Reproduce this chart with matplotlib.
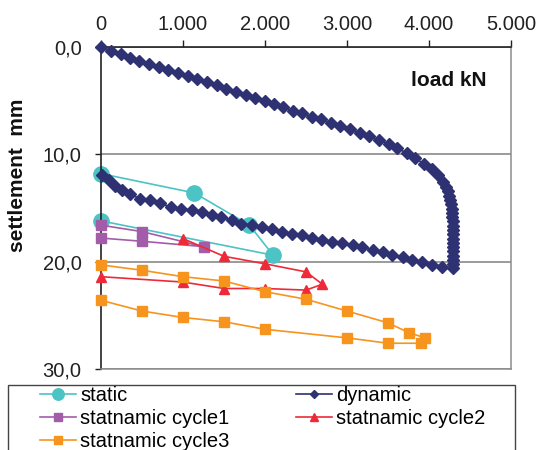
import matplotlib
matplotlib.use("Agg")
import matplotlib.pyplot as plt
from matplotlib.patches import Rectangle

plt.rcParams['font.family'] = ['Liberation Sans', 'DejaVu Sans']

# ---- data: load (kN) vs settlement (mm) ----
static_load = [0, 1140, 1810, 2100, 0]
static_settl = [11.8, 13.6, 16.6, 19.4, 16.2]

dynamic_load = [
    0, 118, 240, 350, 463, 585, 711, 821, 943, 1061, 1175, 1289, 1411, 1524,
    1642, 1764, 1882, 1995, 2106, 2224, 2338, 2455, 2573, 2683, 2805, 2915,
    3037, 3159, 3272, 3390, 3512, 3613, 3728, 3829, 3939, 4033, 4113, 4174,
    4205, 4228, 4247, 4261, 4271, 4278, 4283, 4286, 4288, 4289, 4290, 4290,
    4290, 4290, 4290, 4290, 4290, 4290, 4290, 4288,
    4155, 4033, 3919, 3797, 3679, 3553, 3435, 3313, 3187, 3069, 2935, 2813,
    2691, 2569, 2447, 2325, 2203, 2081, 1960, 1837, 1707, 1594, 1463, 1350,
    1228, 1106, 976, 854, 720, 598, 476, 354, 252, 171, 98, 8,
]
dynamic_settl = [
    0.0, 0.34, 0.68, 1.0, 1.31, 1.55, 1.83, 2.15, 2.46, 2.71, 3.02, 3.27, 3.55, 3.89,
    4.17, 4.45, 4.79, 5.02, 5.35, 5.63, 5.94, 6.19, 6.5, 6.75, 7.06, 7.34,
    7.68, 7.99, 8.3, 8.68, 9.05, 9.45, 9.86, 10.33, 10.91, 11.41, 11.94, 12.57,
    13.05, 13.45, 13.85, 14.25, 14.65, 15.05, 15.45, 15.85, 16.25, 16.65, 17.05, 17.45,
    17.85, 18.25, 18.65, 19.05, 19.45, 19.85, 20.25, 20.62,
    20.5, 20.27, 20.03, 19.87, 19.56, 19.34, 19.1, 18.94, 18.63, 18.47, 18.25, 18.16,
    17.94, 17.75, 17.54, 17.38, 17.23, 17.0, 16.76, 16.6, 16.45, 16.14, 15.83, 15.67,
    15.36, 15.2, 15.05, 14.9, 14.58, 14.27, 14.12, 13.74, 13.34, 12.94, 12.41, 11.88,
]

cycle1_load = [0, 500, 1250, 500, 0]
cycle1_settl = [16.6, 17.2, 18.6, 18.1, 17.8]

cycle2_load = [1000, 1500, 2000, 2500, 2700, 2500, 2000, 1500, 1000, 0]
cycle2_settl = [17.85, 19.5, 20.2, 20.95, 22.1, 22.65, 22.5, 22.5, 21.9, 21.4]

cycle3_load = [0, 500, 1000, 1500, 2000, 2500, 3000, 3500, 3750, 3950,
               3900, 3500, 3000, 2000, 1500, 1000, 500, 0]
cycle3_settl = [20.3, 20.8, 21.4, 21.8, 22.8, 23.5, 24.6, 25.7, 26.6, 27.1,
                27.6, 27.6, 27.1, 26.3, 25.6, 25.2, 24.6, 23.6]

x_ticks = [0, 1000, 2000, 3000, 4000, 5000]
x_tick_labels = ["0", "1.000", "2.000", "3.000", "4.000", "5.000"]
y_ticks = [0, 10, 20, 30]
y_tick_labels = ["0,0", "10,0", "20,0", "30,0"]

C_STATIC = "#4cc3c4"
C_DYN = "#2e3172"
C_C1 = "#a35ca8"
C_C2 = "#ee2a38"
C_C3 = "#f7941e"

W, H = 539, 450
fig = plt.figure(figsize=(W / 100, H / 100), dpi=100)
ax = fig.add_axes([101 / W, 1 - 369 / H, 410 / W, 322 / H])

common = dict(lw=1.2, clip_on=False)
l_static, = ax.plot(static_load, static_settl, color=C_STATIC,
                    marker="o", ms=11, label="static", zorder=2, **common)
l_dyn, = ax.plot(dynamic_load, dynamic_settl, color=C_DYN,
                 marker="D", ms=5.8, label="dynamic", zorder=3, **common)
l_c1, = ax.plot(cycle1_load, cycle1_settl, color=C_C1,
                marker="s", ms=6.8, label="statnamic cycle1", zorder=4, **common)
l_c2, = ax.plot(cycle2_load, cycle2_settl, color=C_C2,
                marker="^", ms=7.5, label="statnamic cycle2", zorder=4, **common)
l_c3, = ax.plot(cycle3_load, cycle3_settl, color=C_C3,
                marker="s", ms=7.0, label="statnamic cycle3", zorder=4, **common)

ax.set_xlim(0, 5000)
ax.set_ylim(30, 0)
ax.xaxis.tick_top()
ax.set_xticks(x_ticks, labels=x_tick_labels)
ax.set_yticks(y_ticks, labels=y_tick_labels)
ax.tick_params(axis="x", direction="out", length=5, width=1, pad=4,
               labelsize=14.5, colors="#222222")
ax.tick_params(axis="y", direction="out", length=4, width=1, pad=10,
               labelsize=14.5, colors="#222222")

ax.yaxis.grid(True, color="#808080", lw=1.1)
ax.set_axisbelow(True)
for side in ("top", "left"):
    ax.spines[side].set_color("#222222")
    ax.spines[side].set_linewidth(1.2)
for side in ("right", "bottom"):
    ax.spines[side].set_color("#8c8c8c")
    ax.spines[side].set_linewidth(1.1)

ax.text(0.94, 0.895, "load kN", transform=ax.transAxes, ha="right",
        va="center", fontsize=15, fontweight="bold", color="#111111")
fig.text(18 / W, 1 - 175 / H, "settlement  mm", rotation=90, ha="center",
         va="center", fontsize=15, fontweight="bold", color="#111111")

# legend: framed box at the foot of the figure
fig.add_artist(Rectangle((8 / W, -0.02), (515 - 8) / W, (1 - 385 / H) + 0.02,
                         transform=fig.transFigure, fill=False,
                         edgecolor="#444444", lw=1.0))
handles = [l_static, l_c1, l_c3, l_dyn, l_c2]
fig.legend(handles=handles, labels=[h.get_label() for h in handles],
           loc="upper left", bbox_to_anchor=(40 / W, 1 - 386 / H), ncol=2,
           frameon=False, fontsize=14.5, borderpad=0, handlelength=1.8,
           handletextpad=0.2, columnspacing=3.3, labelspacing=0.2,
           markerscale=0.75, borderaxespad=0)

fig.savefig("out.png", dpi=100)
